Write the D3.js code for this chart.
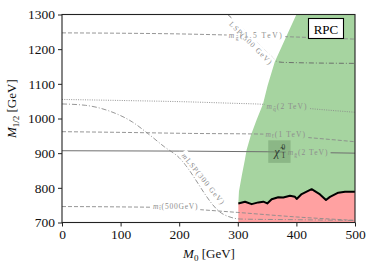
<!DOCTYPE html>
<html><head><meta charset="utf-8">
<script src="https://cdn.jsdelivr.net/npm/d3@7"></script>
<style>body{margin:0;background:#fff}svg{display:block}</style></head>
<body><svg id="c" width="374" height="270"></svg>
<script>
// ---- data ----
const xTicks=[0,100,200,300,400,500];
const yTicks=[700,800,900,1000,1100,1200,1300];
// allowed (green) region left edge
const edgeM0 =[400,381,363,351,343,332,322,315,312,307,302,300.9];
const edgeM12=[1300,1230,1163,1096,1042,996,950,909,880,837,790,755];
// exclusion limit (black line)
const limM0 =[300.9,312.3,323.7,335,343.5,350.3,357.8,369,377.6,389,397.6,400.5,409,426,440.3,450.5,457.3,471.5,483,500];
const limM12=[755,760,753,758,760,755,767,773,772,777,774,768,782,796,781,765,774,786,789,789];
// mass contours
const gl1500M0=[0,100,200,300,400,500], gl1500M12=[1247,1246,1244,1240,1235,1229];
const sq2000M0=[0,100,215,290,343,427,500], sq2000M12=[1055,1052,1048,1044,1041,1028,1018];
const st1000M0=[0,100,218,343,427,500], st1000M12=[962,960,957,955,944,933];
const gl2000M0=[0,200,350,500], gl2000M12=[907,906,904,900];
const st500M0=[0,100,180,244,300,400,500], st500M12=[746,745,743,736,729,716,706];
const lsp300M0=[0,40,80,120,150,175,196,275,290,304,400,500], lsp300M12=[1042,1038,1022,990,952,918,893,724,714,710,708,706];
const lsp500M0=[283,360,366,376,500], lsp500M12=[1300,1175,1165,1162,1159];

// ---- layout ----
const svg=d3.select('#c');
const x=d3.scaleLinear().domain([0,500]).range([62,355]);
const y=d3.scaleLinear().domain([700,1300]).range([222.5,14.5]);
const serif='"Liberation Serif","DejaVu Serif",serif';
const zip=(a,b)=>a.map((v,i)=>[v,b[i]]);
const line=d3.line().x(d=>x(d[0])).y(d=>y(d[1]));
const smooth=d3.line().x(d=>x(d[0])).y(d=>y(d[1])).curve(d3.curveMonotoneX);

const defs=svg.append('defs');
defs.append('clipPath').attr('id','plot').append('rect')
  .attr('x',x(0)).attr('y',y(1300)).attr('width',x(500)-x(0)).attr('height',y(700)-y(1300));
const mask=defs.append('mask').attr('id','lbl').attr('maskUnits','userSpaceOnUse')
  .attr('x',0).attr('y',0).attr('width',374).attr('height',270);
mask.append('rect').attr('width',374).attr('height',270).attr('fill','#fff');

const plot=svg.append('g').attr('clip-path','url(#plot)');

// green region
const green=zip(edgeM0,edgeM12).concat(zip(limM0,limM12).slice(1)).concat([[500,1300]]);
plot.append('path').attr('d',line(green)+'Z').attr('fill','#a6d4a0');
// red region
const red=zip(limM0,limM12).concat([[500,700],[300.9,700]]);
plot.append('path').attr('d',line(red)+'Z').attr('fill','#ffa1a1');

// contour lines
const lines=plot.append('g').attr('mask','url(#lbl)');
const grey='#8a8a8a';
function contour(m0,m12,dash,col,w){
  lines.append('path').attr('d',smooth(zip(m0,m12))).attr('fill','none')
    .attr('stroke',col||grey).attr('stroke-width',w||0.9).attr('stroke-dasharray',dash);
}
contour(gl1500M0,gl1500M12,'4,2');
contour(sq2000M0,sq2000M12,'1,1.3');
contour(st1000M0,st1000M12,'4,2');
contour(gl2000M0,gl2000M12,null,'#6e6e6e',1);
contour(st500M0,st500M12,'4,2');
contour(lsp300M0,lsp300M12,'5,2,1,2');
contour(lsp500M0,lsp500M12,'5,2,1,2','#666');

// labels
const labG=svg.append('g');
function label(m0,m12,parts,width,rot){
  const t=labG.append('text').attr('font-family',serif).attr('font-size',7.5)
    .attr('fill','#8d8d8d').attr('text-anchor','middle').attr('dominant-baseline','central');
  let n=0;
  parts.forEach(p=>{
    const s=t.append('tspan').text(p.t);
    n+=[...p.t].length;
    if(p.sub) s.attr('font-size',5.5).attr('dy',2.2);
    if(p.after) s.attr('dy',-2.2);
    if(p.i) s.attr('font-style','italic');
  });
  const len=t.node().getComputedTextLength();
  if(width) t.attr('letter-spacing',((width-len)/n).toFixed(2));
  const tr=`translate(${x(m0)},${y(m12)}) rotate(${rot||0})`;
  t.attr('transform',tr);
  const b=t.node().getBBox();
  mask.append('rect').attr('x',b.x-2).attr('y',b.y-0.5).attr('width',b.width+4).attr('height',b.height+1)
    .attr('fill','#000').attr('transform',tr);
  return t;
}
label(331,1240,[{t:'m',i:1},{t:'g\u0303',sub:1},{t:'(1.5 TeV)',after:1}],56);
label(384,1035,[{t:'m',i:1},{t:'q\u0303',sub:1},{t:'(2 TeV)',after:1}],42);
label(382,955,[{t:'m',i:1},{t:'t\u0303',sub:1},{t:'(1 TeV)',after:1}],42);
label(420,902,[{t:'m',i:1},{t:'g\u0303',sub:1},{t:'(2 TeV)',after:1}],42);
label(194,748,[{t:'m',i:1},{t:'t\u0303',sub:1},{t:'(500GeV)',after:1}],46);
label(242,826,[{t:'m',i:1},{t:'LSP',sub:0},{t:'(300 GeV)'}],64,51);
label(323,1218,[{t:'LSP(500 GeV)'}],58,45);

// LSP box
const bx0=x(352),bx1=x(390),by0=y(937),by1=y(872);
svg.append('rect').attr('x',bx0).attr('y',by0).attr('width',bx1-bx0).attr('height',by1-by0)
  .attr('fill','#6f9a6c').attr('opacity',0.5);
const cx=(bx0+bx1)/2, cy=(by0+by1)/2;
const chi=svg.append('g').attr('font-family',serif).attr('fill','#2f3a2f');
chi.append('text').attr('x',cx-2.5).attr('y',cy+4.5).attr('text-anchor','middle')
  .attr('font-size',12).attr('font-style','italic').text('\u03c7\u0303');
chi.append('text').attr('x',cx+2).attr('y',cy-1.5).attr('font-size',7.5).text('0');
chi.append('text').attr('x',cx+2).attr('y',cy+6.5).attr('font-size',7.5).text('1');

// exclusion line
plot.append('path').attr('d',line(zip(limM0,limM12))).attr('fill','none')
  .attr('stroke','#000').attr('stroke-width',2).attr('stroke-linejoin','round');

// frame
svg.append('rect').attr('x',x(0)).attr('y',y(1300)).attr('width',x(500)-x(0)).attr('height',y(700)-y(1300))
  .attr('fill','none').attr('stroke','#222').attr('stroke-width',1.1);

// axes
const gx=svg.append('g').attr('transform',`translate(0,${y(700)})`)
  .call(d3.axisBottom(x).tickValues(xTicks).tickSize(4).tickSizeOuter(0).tickPadding(3).tickFormat(d3.format('d')));
const gy=svg.append('g').attr('transform',`translate(${x(0)},0)`)
  .call(d3.axisLeft(y).tickValues(yTicks).tickSize(4).tickSizeOuter(0).tickPadding(3).tickFormat(d3.format('d')));
[gx,gy].forEach(g=>{
  g.select('.domain').remove();
  g.selectAll('line').attr('stroke','#222');
  g.selectAll('text').attr('font-family',serif).attr('font-size',13.5).attr('fill','#111');
});

// RPC box
svg.append('rect').attr('x',308.5).attr('y',18.5).attr('width',35).attr('height',20)
  .attr('fill','#fff').attr('stroke','#000').attr('stroke-width',1.1);
svg.append('text').attr('x',326).attr('y',33.5).attr('text-anchor','middle')
  .attr('font-family',serif).attr('font-size',13).attr('fill','#000').text('RPC');

// axis titles
const xl=svg.append('text').attr('x',209).attr('y',258).attr('text-anchor','middle')
  .attr('font-family',serif).attr('font-size',13).attr('fill','#111');
xl.append('tspan').text('M').attr('font-style','italic');
xl.append('tspan').text('0').attr('font-size',9).attr('dy',3);
xl.append('tspan').text(' [GeV]').attr('dy',-3);
const yl=svg.append('text').attr('transform','translate(16,108.7) rotate(-90)').attr('text-anchor','middle')
  .attr('font-family',serif).attr('font-size',13).attr('fill','#111');
yl.append('tspan').text('M').attr('font-style','italic');
yl.append('tspan').text('1/2').attr('font-size',9).attr('dy',3);
yl.append('tspan').text(' [GeV]').attr('dy',-3);
</script></body></html>
